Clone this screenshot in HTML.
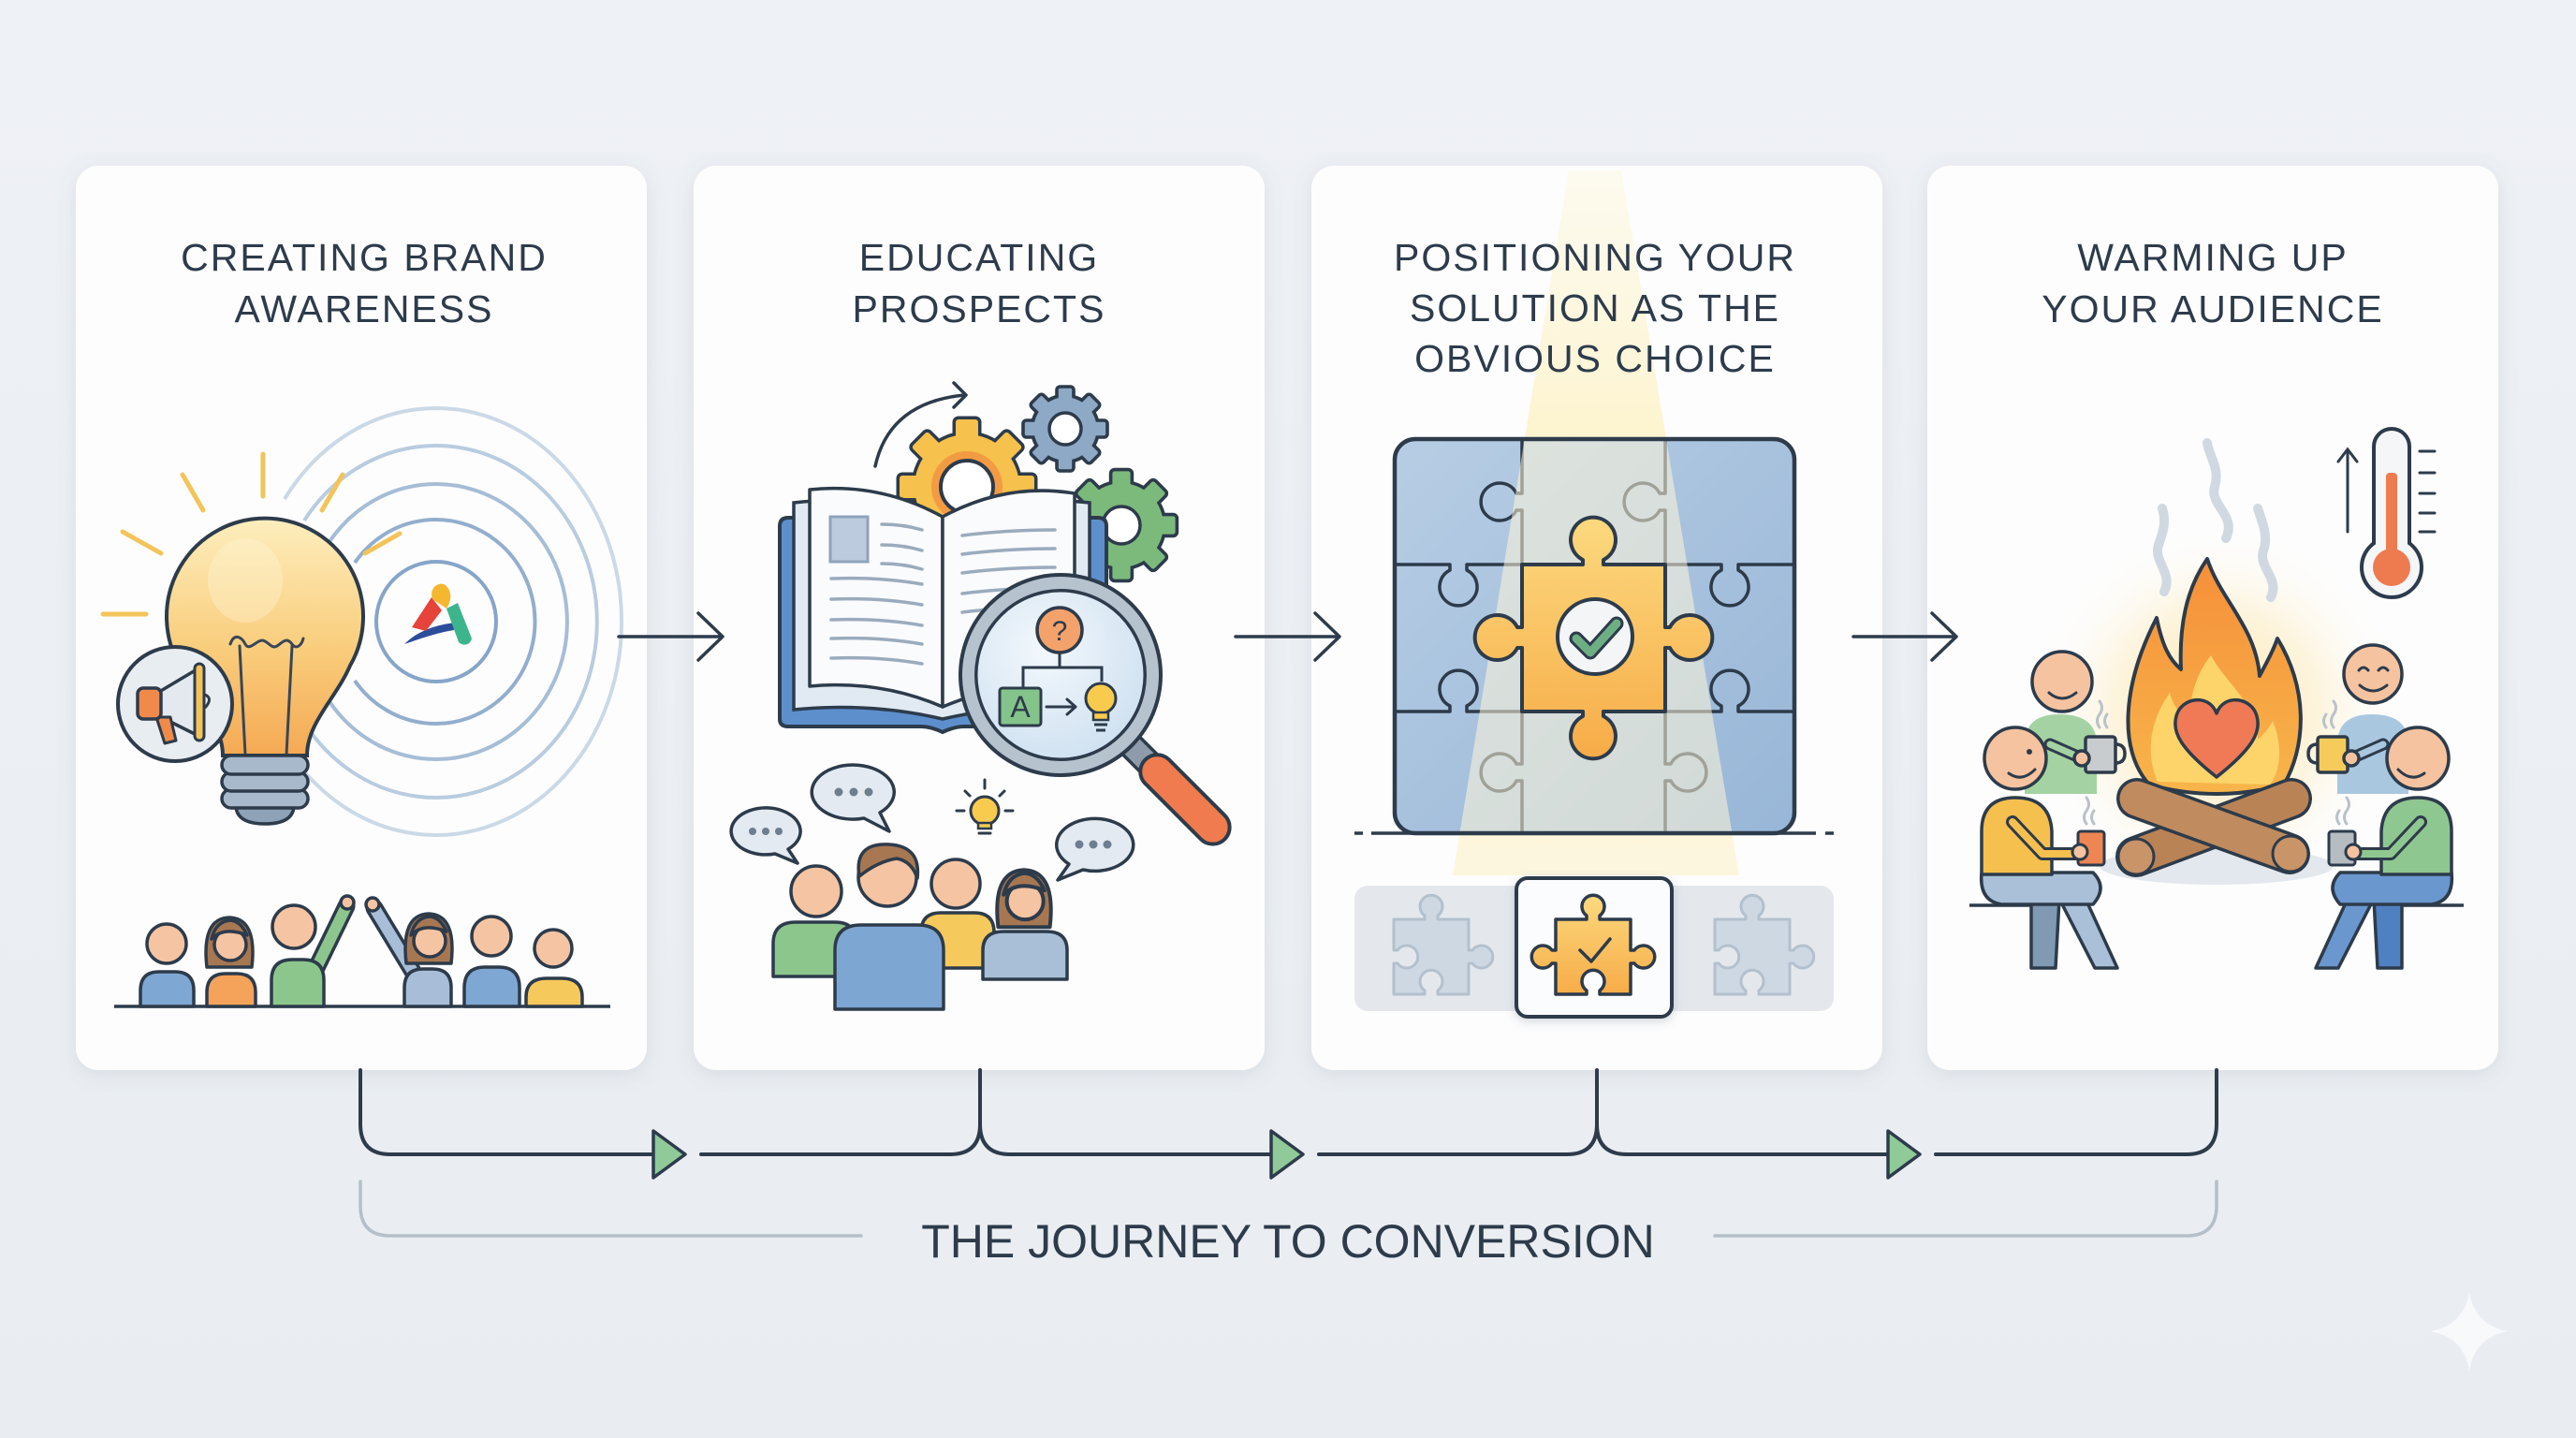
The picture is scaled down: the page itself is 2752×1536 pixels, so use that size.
<!DOCTYPE html>
<html><head><meta charset="utf-8"><title>The Journey to Conversion</title>
<style>
html,body{margin:0;padding:0;background:#edf0f4;width:2752px;height:1536px;overflow:hidden}
svg{display:block}
text{font-family:"Liberation Sans",Arial,sans-serif}
</style></head><body>
<svg xmlns="http://www.w3.org/2000/svg" width="2752" height="1536" viewBox="0 0 2752 1536">
<defs>
<linearGradient id="bgG" x1="0" y1="0" x2="0" y2="1"><stop offset="0" stop-color="#eef1f5"/><stop offset="1" stop-color="#e9edf1"/></linearGradient>
<filter id="sh" x="-10%" y="-10%" width="120%" height="120%"><feDropShadow dx="0" dy="5" stdDeviation="10" flood-color="#6f8096" flood-opacity="0.16"/></filter>
<filter id="sh2" x="-20%" y="-20%" width="140%" height="140%"><feDropShadow dx="0" dy="3" stdDeviation="5" flood-color="#50607a" flood-opacity="0.25"/></filter>
<linearGradient id="bulbG" x1="0" y1="0" x2="0" y2="1"><stop offset="0" stop-color="#fdeebd"/><stop offset="0.55" stop-color="#f9cd7c"/><stop offset="1" stop-color="#f5a954"/></linearGradient>
<radialGradient id="lensG" cx="0.4" cy="0.35" r="0.7"><stop offset="0" stop-color="#f3f8fc"/><stop offset="1" stop-color="#cfe1f1"/></radialGradient>
<linearGradient id="boardG" x1="0" y1="0" x2="1" y2="1"><stop offset="0" stop-color="#b7cde4"/><stop offset="1" stop-color="#98b6d7"/></linearGradient>
<linearGradient id="orgG" x1="0" y1="0" x2="0" y2="1"><stop offset="0" stop-color="#fcd97e"/><stop offset="1" stop-color="#f7ac48"/></linearGradient>
<linearGradient id="beamG" x1="0" y1="0" x2="0" y2="1"><stop offset="0" stop-color="#fdf2c6" stop-opacity="0.25"/><stop offset="0.4" stop-color="#fdefb8" stop-opacity="0.7"/><stop offset="1" stop-color="#fdf0c0" stop-opacity="0.5"/></linearGradient>
<radialGradient id="glowG" cx="0.5" cy="0.5" r="0.5"><stop offset="0" stop-color="#fde5a0" stop-opacity="0.95"/><stop offset="0.55" stop-color="#fdeec8" stop-opacity="0.6"/><stop offset="1" stop-color="#ffffff" stop-opacity="0"/></radialGradient>
<linearGradient id="flameG" x1="0" y1="0" x2="0" y2="1"><stop offset="0" stop-color="#f58f3a"/><stop offset="1" stop-color="#f8b54a"/></linearGradient>
<clipPath id="boardClip"><rect x="1490" y="469" width="427" height="421" rx="22"/></clipPath>
<g id="gear">
<circle r="56"/>
<rect x="-12" y="-72" width="24" height="26" rx="3"/>
<rect x="-12" y="-72" width="24" height="26" rx="3" transform="rotate(45)"/>
<rect x="-12" y="-72" width="24" height="26" rx="3" transform="rotate(90)"/>
<rect x="-12" y="-72" width="24" height="26" rx="3" transform="rotate(135)"/>
<rect x="-12" y="-72" width="24" height="26" rx="3" transform="rotate(180)"/>
<rect x="-12" y="-72" width="24" height="26" rx="3" transform="rotate(225)"/>
<rect x="-12" y="-72" width="24" height="26" rx="3" transform="rotate(270)"/>
<rect x="-12" y="-72" width="24" height="26" rx="3" transform="rotate(315)"/>
</g>
<g id="wh" stroke="#2d3b4b" stroke-width="3.5" stroke-linejoin="round">
<path d="M-24,28 Q-30,-24 0,-25 Q30,-24 24,28 Z" fill="#a77752"/>
<circle cx="1" cy="4" r="17" fill="#f5c4a2"/>
<path d="M-19,-2 Q-6,-16 19,-6 Q12,-22 0,-22 Q-15,-20 -19,-2 Z" fill="#a77752"/>
</g>
<path id="pzO" d="M0,0 H33 V-4 A12 12 0 1 1 47,-4 V0 H80 V33 H84 A12 12 0 1 1 84,47 H80 V80 H47 V76 A12 12 0 1 0 33,76 V80 H0 V47 H-4 A12 12 0 1 1 -4,33 H0 Z"/>
<path id="pzG" d="M0,0 H33 V-4 A12 12 0 1 1 47,-4 V0 H80 V33 H84 A12 12 0 1 1 84,47 H80 V80 H47 V76 A12 12 0 1 0 33,76 V80 H0 V47 H4 A12 12 0 1 0 4,33 H0 Z"/>
</defs>

<rect x="0" y="0" width="2752" height="1536" fill="url(#bgG)"/>

<!-- Cards -->
<g fill="#fdfdfd" filter="url(#sh)">
<rect x="81" y="177" width="610" height="966" rx="24"/>
<rect x="741" y="177" width="610" height="966" rx="24"/>
<rect x="1401" y="177" width="610" height="966" rx="24"/>
<rect x="2059" y="177" width="610" height="966" rx="24"/>
</g>

<!-- Card 3 beam (behind title) -->
<polygon points="1676,182 1732,182 1858,935 1552,935" fill="url(#beamG)"/>

<!-- Titles -->
<g font-size="41" fill="#2d3b4b" text-anchor="middle" letter-spacing="2">
<text x="389" y="289">CREATING BRAND</text>
<text x="389" y="344">AWARENESS</text>
<text x="1046" y="289">EDUCATING</text>
<text x="1046" y="344">PROSPECTS</text>
<text x="1704" y="289">POSITIONING YOUR</text>
<text x="1704" y="343">SOLUTION AS THE</text>
<text x="1704" y="397">OBVIOUS CHOICE</text>
<text x="2364" y="289">WARMING UP</text>
<text x="2364" y="344">YOUR AUDIENCE</text>
</g>

<!-- ===== CARD 1 ===== -->
<g fill="none" stroke-width="4">
<circle cx="466" cy="664" r="64" stroke="#86a5c8"/>
<path d="M379,601 A106 109 0 1 1 379,727" stroke="#93aecd"/>
<path d="M351,580 A140 147 0 1 1 351,748" stroke="#a6bdd6"/>
<path d="M325,556 A172 188 0 1 1 325,772" stroke="#b9cce0"/>
<path d="M304,533 A198 228 0 1 1 304,795" stroke="#cbd9e7"/>
</g>
<!-- logo -->
<path d="M432,688 C446,674 466,667 488,665 L485,673 C466,676 450,682 432,688 Z" fill="#2c4c9c"/>
<path d="M440,670 L461,638 L472,652 L455,674 Z" fill="#e6433a"/>
<path d="M462,640 C458,628 468,622 474,624 C482,628 484,640 477,650 Z" fill="#f6b730"/>
<path d="M477,650 L489,644 L504,682 C502,690 494,690 490,686 Z" fill="#3db58c"/>
<!-- rays -->
<g stroke="#f2c459" stroke-width="5" stroke-linecap="round">
<line x1="110" y1="656" x2="156" y2="656"/>
<line x1="131" y1="568" x2="172" y2="591"/>
<line x1="195" y1="507" x2="217" y2="545"/>
<line x1="281" y1="485" x2="281" y2="530"/>
<line x1="366" y1="507" x2="344" y2="545"/>
<line x1="427" y1="570" x2="390" y2="591"/>
</g>
<!-- bulb -->
<path d="M238,807 C238,772 207,746 192,711 A105 105 0 1 1 374,711 C359,746 328,772 328,807 Z" fill="url(#bulbG)" stroke="#2d3b4b" stroke-width="4"/>
<ellipse cx="262" cy="620" rx="40" ry="45" fill="#fff6da" opacity="0.35"/>
<g fill="none" stroke="#3a4656" stroke-width="3" stroke-linecap="round">
<path d="M262,806 L256,690"/><path d="M306,806 L312,690"/>
<path d="M246,688 C250,676 258,680 262,688 C266,696 274,684 280,684 C286,684 290,694 296,690 C302,686 306,680 312,688 C316,694 322,690 324,682"/>
</g>
<g fill="#a8b9cb" stroke="#2d3b4b" stroke-width="3.5">
<path d="M252,862 H314 Q312,880 283,880 Q254,880 252,862 Z" fill="#8fa3b8"/>
<rect x="237" y="843" width="92" height="20" rx="10"/>
<rect x="237" y="825" width="92" height="20" rx="10"/>
<rect x="237" y="807" width="92" height="20" rx="10"/>
</g>
<!-- megaphone -->
<circle cx="187" cy="752" r="61" fill="#e8edf2" stroke="#2d3b4b" stroke-width="4"/>
<path d="M170,739 L212,714 L212,786 L170,765 Z" fill="#e4e9ef" stroke="#2d3b4b" stroke-width="3.5" stroke-linejoin="round"/>
<path d="M167,766 L176,794 L188,791 L182,766 Z" fill="#f08a4b" stroke="#2d3b4b" stroke-width="3" stroke-linejoin="round"/>
<rect x="147" y="735" width="25" height="33" rx="6" fill="#f08a4b" stroke="#2d3b4b" stroke-width="3.5"/>
<rect x="208" y="709" width="10" height="82" rx="5" fill="#f3c25a" stroke="#2d3b4b" stroke-width="3"/>
<path d="M219,742 Q228,746 219,756" fill="none" stroke="#2d3b4b" stroke-width="3"/>
<!-- people -->
<line x1="122" y1="1075" x2="652" y2="1075" stroke="#2d3b4b" stroke-width="3.5"/>
<g stroke="#2d3b4b" stroke-width="3.5" stroke-linejoin="round">
<path d="M334,1042 L370,968" fill="none" stroke-width="19" stroke-linecap="round"/>
<path d="M334,1042 L370,968" fill="none" stroke="#8dc68d" stroke-width="12" stroke-linecap="round"/>
<path d="M446,1046 L400,970" fill="none" stroke-width="19" stroke-linecap="round"/>
<path d="M446,1046 L400,970" fill="none" stroke="#a8bed8" stroke-width="12" stroke-linecap="round"/>
<circle cx="371" cy="964" r="7" fill="#f5c4a2"/>
<circle cx="398" cy="966" r="7" fill="#f5c4a2"/>
<path d="M150,1075 V1058 Q150,1038 170,1038 H187 Q207,1038 207,1058 V1075 Z" fill="#7fa7d3"/>
<path d="M221,1075 V1060 Q221,1040 241,1040 H253 Q273,1040 273,1060 V1075 Z" fill="#f5a35b"/>
<path d="M290,1075 V1047 Q290,1025 312,1025 H324 Q346,1025 346,1047 V1075 Z" fill="#8dc68d"/>
<path d="M432,1075 V1055 Q432,1035 452,1035 H462 Q482,1035 482,1055 V1075 Z" fill="#a8bed8"/>
<path d="M496,1075 V1055 Q496,1033 518,1033 H533 Q555,1033 555,1055 V1075 Z" fill="#7fa7d3"/>
<path d="M562,1075 V1065 Q562,1045 584,1045 H600 Q622,1045 622,1065 V1075 Z" fill="#f6c95c"/>
<circle cx="178" cy="1008" r="21" fill="#f5c4a2"/>
<circle cx="314" cy="990" r="23" fill="#f5c4a2"/>
<circle cx="525" cy="1000" r="21" fill="#f5c4a2"/>
<circle cx="591" cy="1013" r="20" fill="#f5c4a2"/>
</g>
<use href="#wh" x="245" y="1005"/>
<use href="#wh" x="458" y="1001"/>

<!-- ===== CARD 2 ===== -->
<use href="#gear" transform="translate(1198,561) scale(0.8)" fill="#2d3b4b" stroke="#2d3b4b" stroke-width="9" stroke-linejoin="round"/>
<use href="#gear" transform="translate(1198,561) scale(0.8)" fill="#7cba7c"/>
<circle cx="1198" cy="561" r="20" fill="#fff" stroke="#2d3b4b" stroke-width="3.5"/>
<use href="#gear" transform="translate(1138,458) scale(0.6)" fill="#2d3b4b" stroke="#2d3b4b" stroke-width="12" stroke-linejoin="round"/>
<use href="#gear" transform="translate(1138,458) scale(0.6)" fill="#8ea9c6"/>
<circle cx="1138" cy="458" r="17" fill="#fff" stroke="#2d3b4b" stroke-width="3.5"/>
<use href="#gear" transform="translate(1033,520)" fill="#2d3b4b" stroke="#2d3b4b" stroke-width="7" stroke-linejoin="round"/>
<use href="#gear" transform="translate(1033,520)" fill="#f6c14c"/>
<circle cx="1033" cy="520" r="38" fill="#f39b43"/>
<circle cx="1033" cy="520" r="28" fill="#fff" stroke="#2d3b4b" stroke-width="4"/>
<g fill="none" stroke="#2d3b4b" stroke-width="3.5" stroke-linecap="round" stroke-linejoin="round">
<path d="M935,498 Q950,430 1030,422"/>
<path d="M1019,409 L1032,422 L1019,435"/>
</g>
<!-- book -->
<path d="M833,562 Q833,553 842,553 H1173 Q1182,553 1182,562 V768 Q1182,776 1173,776 H1030 Q1020,776 1007,782 Q994,776 984,776 H842 Q833,776 833,768 Z" fill="#5d8fcd" stroke="#2d3b4b" stroke-width="4"/>
<path d="M848,537 Q930,528 1007,552 Q1085,528 1164,537 V758 Q1085,750 1007,768 Q930,750 848,758 Z" fill="#e1e9f2" stroke="#2d3b4b" stroke-width="3.5"/>
<path d="M865,523 Q940,515 1007,552 V755 Q940,726 865,733 Z" fill="#fafbfd" stroke="#2d3b4b" stroke-width="3.5" stroke-linejoin="round"/>
<path d="M1007,552 Q1075,515 1148,527 V733 Q1075,726 1007,755 Z" fill="#fafbfd" stroke="#2d3b4b" stroke-width="3.5" stroke-linejoin="round"/>
<rect x="887" y="552" width="40" height="48" fill="#bccbdd" stroke="#8ea3ba" stroke-width="3"/>
<g fill="none" stroke="#9aabbd" stroke-width="3.5" stroke-linecap="round">
<path d="M942,560 Q965,560 985,566"/><path d="M942,582 Q965,582 985,588"/><path d="M942,602 Q965,602 985,608"/>
<path d="M888,618 Q940,616 985,624"/><path d="M888,640 Q940,638 985,646"/><path d="M888,662 Q940,660 985,668"/><path d="M888,682 Q940,680 985,688"/><path d="M888,703 Q940,701 985,709"/>
<path d="M1028,572 Q1075,566 1127,566"/><path d="M1028,592 Q1075,586 1127,586"/><path d="M1028,612 Q1075,606 1127,606"/><path d="M1028,634 Q1075,628 1127,628"/><path d="M1028,654 Q1075,648 1127,648"/>
</g>
<!-- magnifier -->
<g transform="translate(1133,721) rotate(45)">
<rect x="100" y="-13" width="34" height="26" fill="#8d9bab" stroke="#2d3b4b" stroke-width="3.5"/>
<rect x="128" y="-18" width="120" height="36" rx="18" fill="#ef7b4f" stroke="#2d3b4b" stroke-width="4"/>
</g>
<circle cx="1133" cy="721" r="109" fill="#2d3b4b"/>
<circle cx="1133" cy="721" r="105" fill="#b6c2ce"/>
<circle cx="1133" cy="721" r="92" fill="#2d3b4b"/>
<circle cx="1133" cy="721" r="88.5" fill="url(#lensG)"/>
<g fill="none" stroke="#2d3b4b" stroke-width="3">
<path d="M1132,697 V713 M1093,735 V713 H1177 V728"/>
<path d="M1118,755 H1148 M1140,747 L1149,755 L1140,763" stroke-linecap="round" stroke-linejoin="round"/>
</g>
<circle cx="1132" cy="673" r="24" fill="#f4a26c" stroke="#2d3b4b" stroke-width="3.5"/>
<text x="1132" y="684" font-size="30" fill="#2d3b4b" text-anchor="middle">?</text>
<rect x="1068" y="735" width="44" height="40" rx="3" fill="#84c48b" stroke="#2d3b4b" stroke-width="3"/>
<text x="1090" y="766" font-size="32" fill="#2d3b4b" text-anchor="middle">A</text>
<circle cx="1176" cy="746" r="16" fill="#f8cb4e" stroke="#2d3b4b" stroke-width="3"/>
<rect x="1168" y="761" width="16" height="8" fill="#f8cb4e" stroke="#2d3b4b" stroke-width="2.5"/>
<path d="M1169,774 H1183 M1171,780 H1181" stroke="#2d3b4b" stroke-width="3"/>
<!-- speech bubbles -->
<g fill="#e4eaf1" stroke="#2d3b4b" stroke-width="3.5" stroke-linejoin="round">
<path d="M923,874 A44 29 0 1 1 940,868 L950,888 Z"/>
<path d="M828,912 A37 25 0 1 1 842,907 L852,922 Z"/>
<path d="M1157,929 A41 28 0 1 0 1142,923 L1130,940 Z"/>
</g>
<g fill="#6e7e8f">
<circle cx="896" cy="846" r="4.5"/><circle cx="912" cy="846" r="4.5"/><circle cx="928" cy="846" r="4.5"/>
<circle cx="804" cy="888" r="4"/><circle cx="818" cy="888" r="4"/><circle cx="832" cy="888" r="4"/>
<circle cx="1153" cy="902" r="4.5"/><circle cx="1168" cy="902" r="4.5"/><circle cx="1183" cy="902" r="4.5"/>
</g>
<g stroke="#2d3b4b" stroke-width="3" stroke-linecap="round">
<line x1="1052" y1="833" x2="1052" y2="842"/>
<line x1="1031" y1="845" x2="1036" y2="850"/><line x1="1073" y1="845" x2="1068" y2="850"/>
<line x1="1022" y1="866" x2="1030" y2="866"/><line x1="1074" y1="866" x2="1082" y2="866"/>
<circle cx="1052" cy="866" r="15" fill="#f8cb4e"/>
<rect x="1045" y="879" width="14" height="6" fill="#f8cb4e" stroke-width="2.5"/>
<line x1="1046" y1="890" x2="1058" y2="890"/>
</g>
<!-- people card 2 -->
<g stroke="#2d3b4b" stroke-width="3.5" stroke-linejoin="round">
<path d="M826,1043 V1008 Q826,985 850,985 H892 Q915,985 915,1008 V1043 Z" fill="#8dc68d"/>
<circle cx="872" cy="952" r="27" fill="#f5c4a2"/>
<path d="M984,1034 V996 Q984,975 1005,975 H1041 Q1062,975 1062,996 V1034 Z" fill="#f6c95c"/>
<circle cx="1021" cy="944" r="26" fill="#f5c4a2"/>
<path d="M1050,1046 V1015 Q1050,995 1072,995 H1118 Q1140,995 1140,1015 V1046 Z" fill="#a9bfd8"/>
</g>
<use href="#wh" transform="translate(1094,958) scale(1.15)"/>
<g stroke="#2d3b4b" stroke-width="3.5" stroke-linejoin="round">
<path d="M892,1078 V1015 Q892,988 920,988 H980 Q1008,988 1008,1015 V1078 Z" fill="#7ea6d3"/>
<circle cx="948" cy="937" r="31" fill="#f5c4a2"/>
<path d="M918,936 Q912,900 950,902 Q984,904 980,938 Q974,920 958,917 Q938,920 918,936 Z" fill="#a77752"/>
</g>

<!-- ===== CARD 3 ===== -->
<rect x="1490" y="469" width="427" height="421" rx="22" fill="url(#boardG)"/>
<g fill="none" stroke="#2d3b4b" stroke-width="3.5" stroke-linejoin="round">
<path d="M1626,469 V527 H1620 A20 20 0 1 0 1620,545 H1626 V603"/>
<path d="M1779,469 V527 H1773 A20 20 0 1 0 1773,545 H1779 V603"/>
<path d="M1626,760 V816 H1620 A20 20 0 1 0 1620,834 H1626 V890"/>
<path d="M1779,760 V816 H1785 A20 20 0 1 1 1785,834 H1779 V890"/>
<path d="M1490,603 H1549 V609 A20 20 0 1 0 1567,609 V603 H1626"/>
<path d="M1779,603 H1839 V609 A20 20 0 1 0 1857,609 V603 H1917"/>
<path d="M1490,760 H1549 V754 A20 20 0 1 1 1567,754 V760 H1626"/>
<path d="M1779,760 H1839 V754 A20 20 0 1 1 1857,754 V760 H1917"/>
</g>
<polygon clip-path="url(#boardClip)" points="1676,182 1732,182 1858,935 1552,935" fill="#fff6d8" opacity="0.55"/>
<rect x="1490" y="469" width="427" height="421" rx="22" fill="none" stroke="#2d3b4b" stroke-width="4.5"/>
<path d="M1626,603 H1691 V598 A24 24 0 1 1 1713,598 V603 H1779 V670 H1784 A24 24 0 1 1 1784,692 H1779 V760 H1713 V765 A24 24 0 1 1 1691,765 V760 H1626 V692 H1621 A24 24 0 1 1 1621,670 H1626 Z" fill="url(#orgG)" stroke="#2d3b4b" stroke-width="4" stroke-linejoin="round"/>
<circle cx="1704" cy="680" r="40" fill="#f3f5f7" stroke="#2d3b4b" stroke-width="4"/>
<path d="M1684,682 L1699,697 L1727,666" fill="none" stroke="#2d3b4b" stroke-width="15" stroke-linecap="round" stroke-linejoin="round"/>
<path d="M1684,682 L1699,697 L1727,666" fill="none" stroke="#6daf83" stroke-width="9" stroke-linecap="round" stroke-linejoin="round"/>
<g stroke="#2d3b4b" stroke-width="3.5">
<path d="M1465,890 H1940"/><path d="M1447,890 H1456"/><path d="M1950,890 H1959"/>
</g>
<rect x="1447" y="946" width="512" height="134" rx="14" fill="#e4e8ed"/>
<use href="#pzG" transform="translate(1489,982)" fill="#cdd8e3" stroke="#b3c0cd" stroke-width="3" stroke-linejoin="round"/>
<use href="#pzG" transform="translate(1832,982)" fill="#cdd8e3" stroke="#b3c0cd" stroke-width="3" stroke-linejoin="round"/>
<rect x="1620" y="938" width="166" height="148" rx="12" fill="#fbfcfd" stroke="#2d3b4b" stroke-width="4" filter="url(#sh2)"/>
<use href="#pzO" transform="translate(1662,982)" fill="url(#orgG)" stroke="#2d3b4b" stroke-width="3.5" stroke-linejoin="round"/>
<path d="M1688,1015 L1700,1027 L1720,1003" fill="none" stroke="#2d3b4b" stroke-width="3.5" stroke-linecap="round" stroke-linejoin="round"/>

<!-- ===== CARD 4 ===== -->
<circle cx="2368" cy="760" r="200" fill="url(#glowG)"/>
<ellipse cx="2368" cy="925" rx="125" ry="20" fill="#e3e8ee"/>
<g fill="none" stroke="#d0d9e2" stroke-width="10" stroke-linecap="round">
<path d="M2312,632 C2322,612 2300,600 2306,582 C2312,566 2314,556 2310,543"/>
<path d="M2378,575 C2390,550 2360,540 2366,520 C2372,500 2360,488 2358,473"/>
<path d="M2426,638 C2436,618 2412,606 2418,588 C2424,572 2416,556 2412,543"/>
</g>
<path d="M2163,848 V795 Q2163,763 2200,763 Q2240,763 2240,795 V848 Z" fill="#a5d2a2"/>
<path d="M2497,848 V795 Q2497,763 2534,763 Q2573,763 2573,795 V848 Z" fill="#aac7e0"/>
<g stroke="#2d3b4b" stroke-width="3.5" stroke-linejoin="round">
<path d="M2190,795 L2224,810" fill="none" stroke-width="13" stroke-linecap="round"/>
<path d="M2190,795 L2224,810" fill="none" stroke="#a5d2a2" stroke-width="7" stroke-linecap="round"/>
<path d="M2546,795 L2512,810" fill="none" stroke-width="13" stroke-linecap="round"/>
<path d="M2546,795 L2512,810" fill="none" stroke="#aac7e0" stroke-width="7" stroke-linecap="round"/>
<rect x="2228" y="787" width="32" height="38" rx="3" fill="#c9cccf"/>
<path d="M2260,795 Q2270,795 2270,805 Q2270,815 2260,815" fill="none"/>
<rect x="2476" y="787" width="32" height="38" rx="3" fill="#f6cb5a"/>
<path d="M2476,795 Q2466,795 2466,805 Q2466,815 2476,815" fill="none"/>
<circle cx="2224" cy="810" r="8" fill="#f5c3a0"/>
<circle cx="2512" cy="810" r="8" fill="#f5c3a0"/>
<circle cx="2203" cy="728" r="32" fill="#f5c3a0"/>
<circle cx="2535" cy="720" r="31" fill="#f5c3a0"/>
</g>
<g fill="none" stroke="#2d3b4b" stroke-width="3" stroke-linecap="round">
<path d="M2189,740 Q2203,752 2218,740"/>
<path d="M2521,732 Q2535,744 2550,732"/>
<path d="M2520,716 Q2525,710 2530,716"/><path d="M2541,716 Q2546,710 2551,716"/>
</g>
<g fill="none" stroke="#b9c2cb" stroke-width="3" stroke-linecap="round">
<path d="M2243,777 Q2238,770 2243,763 Q2248,756 2243,749"/><path d="M2251,777 Q2246,770 2251,763"/>
<path d="M2493,777 Q2488,770 2493,763 Q2498,756 2493,749"/><path d="M2485,777 Q2480,770 2485,763"/>
<path d="M2229,880 Q2224,873 2229,866 Q2234,859 2229,852"/><path d="M2237,880 Q2232,873 2237,866"/>
<path d="M2507,880 Q2502,873 2507,866 Q2512,859 2507,852"/><path d="M2499,880 Q2494,873 2499,866"/>
</g>
<path d="M2296,838 C2262,800 2268,730 2304,660 C2310,690 2318,705 2330,715 C2328,670 2335,630 2358,597 C2372,640 2410,670 2414,722 C2420,710 2428,697 2433,682 C2468,740 2462,800 2440,838 Q2368,858 2296,838 Z" fill="url(#flameG)" stroke="#2d3b4b" stroke-width="4" stroke-linejoin="round"/>
<path d="M2305,835 C2290,800 2300,765 2318,740 C2322,755 2330,765 2340,770 C2338,740 2350,715 2362,700 C2378,730 2410,750 2412,790 C2418,785 2424,778 2428,770 C2440,800 2435,825 2425,838 Z" fill="#fcd46a"/>
<path d="M2368,830 C2330,800 2320,782 2325,765 C2330,745 2360,740 2368,762 C2376,740 2406,745 2411,765 C2416,782 2406,800 2368,830 Z" fill="#ef7a55" stroke="#2d3b4b" stroke-width="3.5" stroke-linejoin="round"/>
<g stroke-linecap="round">
<path d="M2282,915 L2448,853" stroke="#2d3b4b" stroke-width="44"/>
<path d="M2282,915 L2448,853" stroke="#b98356" stroke-width="37"/>
<path d="M2283,853 L2446,912" stroke="#2d3b4b" stroke-width="44"/>
<path d="M2283,853 L2446,912" stroke="#c08b5e" stroke-width="37"/>
</g>
<circle cx="2282" cy="915" r="19" fill="#c99468" stroke="#2d3b4b" stroke-width="3"/>
<circle cx="2447" cy="912" r="19" fill="#c99468" stroke="#2d3b4b" stroke-width="3"/>
<g stroke="#2d3b4b" stroke-width="3.5"><path d="M2104,967 H2184"/><path d="M2552,967 H2632"/></g>
<g stroke="#2d3b4b" stroke-width="3.5" stroke-linejoin="round">
<path d="M2170,960 L2170,1034 L2196,1034 L2200,960 Z" fill="#7f9ab2"/>
<path d="M2200,960 L2238,1034 L2262,1034 L2228,960 Z" fill="#a9c0d8"/>
<path d="M2117,932 H2236 Q2252,948 2236,966 H2138 Q2114,962 2117,932 Z" fill="#a9c0d8"/>
<path d="M2117,934 V888 Q2117,852 2153,852 Q2190,852 2192,888 V934 Z" fill="#f6c04f"/>
<path d="M2150,878 L2182,912 L2218,912" fill="none" stroke-width="14" stroke-linecap="round"/>
<path d="M2150,878 L2182,912 L2218,912" fill="none" stroke="#f6c04f" stroke-width="8" stroke-linecap="round"/>
<rect x="2220" y="888" width="28" height="36" rx="3" fill="#ee8654" stroke-width="3"/>
<circle cx="2222" cy="910" r="8" fill="#f5c3a0" stroke-width="3"/>
<circle cx="2153" cy="810" r="33" fill="#f5c3a0"/>
<circle cx="2168" cy="803" r="3" fill="#2d3b4b" stroke="none"/>
<path d="M2146,826 Q2160,836 2174,822" fill="none" stroke-width="3" stroke-linecap="round"/>
</g>
<g transform="translate(4736,0) scale(-1,1)" stroke="#2d3b4b" stroke-width="3.5" stroke-linejoin="round">
<path d="M2170,960 L2170,1034 L2196,1034 L2200,960 Z" fill="#4f80c2"/>
<path d="M2200,960 L2238,1034 L2262,1034 L2228,960 Z" fill="#6b97cf"/>
<path d="M2117,932 H2236 Q2252,948 2236,966 H2138 Q2114,962 2117,932 Z" fill="#6b97cf"/>
<path d="M2117,934 V888 Q2117,852 2153,852 Q2190,852 2192,888 V934 Z" fill="#8fc790"/>
<path d="M2150,878 L2182,912 L2218,912" fill="none" stroke-width="14" stroke-linecap="round"/>
<path d="M2150,878 L2182,912 L2218,912" fill="none" stroke="#8fc790" stroke-width="8" stroke-linecap="round"/>
<rect x="2220" y="888" width="28" height="36" rx="3" fill="#b5bcc2" stroke-width="3"/>
<circle cx="2222" cy="910" r="8" fill="#f5c3a0" stroke-width="3"/>
<circle cx="2153" cy="810" r="33" fill="#f5c3a0"/>
<path d="M2146,826 Q2160,836 2174,822" fill="none" stroke-width="3" stroke-linecap="round"/>
</g>
<g stroke="#2d3b4b" stroke-width="8">
<rect x="2538" y="460" width="34" height="140" rx="17" fill="#2d3b4b"/>
<circle cx="2555" cy="606" r="30" fill="#2d3b4b"/>
</g>
<rect x="2538" y="460" width="34" height="140" rx="17" fill="#f4f6f8"/>
<circle cx="2555" cy="606" r="30" fill="#f4f6f8"/>
<rect x="2549" y="505" width="12" height="100" rx="4" fill="#ee7a50"/>
<circle cx="2555" cy="606" r="20" fill="#ee7a50"/>
<g stroke="#2d3b4b" stroke-width="3" stroke-linecap="round" fill="none">
<path d="M2585,482 H2601 M2585,505 H2601 M2585,527 H2601 M2585,548 H2601 M2585,568 H2601"/>
<path d="M2508,568 V481 M2498,493 L2508,480 L2518,493"/>
</g>

<!-- Arrows between cards -->
<g stroke="#2d3b4b" stroke-width="3.5" fill="none" stroke-linecap="round" stroke-linejoin="round">
<path d="M661,680 H771 M746,655 L772,680 L746,705"/>
<path d="M1320,680 H1430 M1405,655 L1431,680 L1405,705"/>
<path d="M1980,680 H2089 M2064,655 L2090,680 L2064,705"/>
</g>

<!-- Bottom connectors -->
<g fill="none" stroke="#2d3b4b" stroke-width="4" stroke-linecap="round">
<path d="M385,1143 V1201 Q385,1233 417,1233 H698"/>
<path d="M749,1233 H1015 Q1047,1233 1047,1201 V1143"/>
<path d="M1047,1201 Q1047,1233 1079,1233 H1358"/>
<path d="M1409,1233 H1674 Q1706,1233 1706,1201 V1143"/>
<path d="M1706,1201 Q1706,1233 1738,1233 H2017"/>
<path d="M2068,1233 H2336 Q2368,1233 2368,1201 V1143"/>
</g>
<g fill="#8fca98" stroke="#2d3b4b" stroke-width="3.5" stroke-linejoin="round">
<path d="M698,1208 L732,1233 L698,1258 Z"/>
<path d="M1358,1208 L1392,1233 L1358,1258 Z"/>
<path d="M2017,1208 L2051,1233 L2017,1258 Z"/>
</g>
<g fill="none" stroke="#b5bfc9" stroke-width="3.5" stroke-linecap="round">
<path d="M385,1262 V1288 Q385,1320 417,1320 H920"/>
<path d="M1832,1320 H2336 Q2368,1320 2368,1288 V1262"/>
</g>
<text x="1376" y="1343" font-size="50" fill="#2d3b4b" text-anchor="middle">THE JOURNEY TO CONVERSION</text>

<path d="M2638,1380 Q2644,1416 2680,1422 Q2644,1428 2638,1464 Q2632,1428 2596,1422 Q2632,1416 2638,1380 Z" fill="#f8fafc" opacity="0.9"/>
</svg>
</body></html>
